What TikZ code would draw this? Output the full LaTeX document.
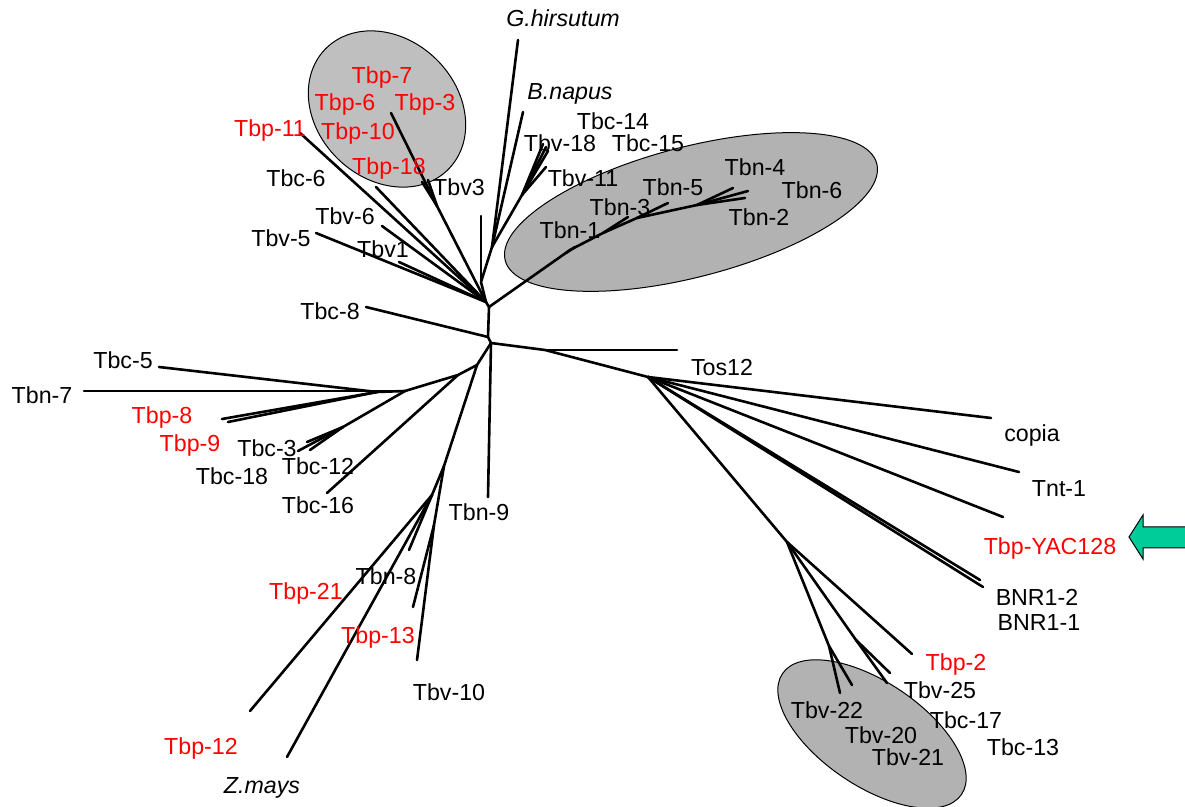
\documentclass[tikz,border=0pt]{standalone}
\usepackage{fontspec}
\setmainfont{Liberation Sans}
\usetikzlibrary{positioning}
\definecolor{markgreen}{RGB}{0,204,153}
\tikzset{
  branch/.style = {line width=1.3pt, line cap=round, line join=round},
  taxon/.style = {font=\fontsize{11.6}{13}\selectfont, inner sep=0pt, text height=8.3pt, text depth=0pt},
  redtaxon/.style = {taxon, text=red},
  species/.style = {taxon, font=\fontsize{11.6}{13}\selectfont\itshape},
  clade/.style = {draw, fill=black!30, line width=0.5pt}
}

\begin{document}
\begin{tikzpicture}[x=0.5pt, y=-0.5pt]

  \useasboundingbox (0,0) rectangle (1185,807);

  %% Clades
  \coordinate (tbpclade) at (387,109);
  \coordinate (tbnclade) at (691,212);
  \coordinate (tbvclade) at (872,734);
  \draw[clade, fill=black!25, rotate around={-44:(tbpclade)}] (tbpclade) ellipse [x radius=43pt, y radius=35pt];
  \draw[clade, rotate around={14.6:(tbnclade)}] (tbnclade) ellipse [x radius=96pt, y radius=32.5pt];
  \draw[clade, rotate around={-34:(tbvclade)}] (tbvclade) ellipse [x radius=54pt, y radius=26pt];

  %% Inner nodes
  \coordinate (h1) at (486,302);
  \coordinate (h2) at (489,307);
  \coordinate (c1) at (488,337);
  \coordinate (c2) at (491,343);
  \coordinate (v) at (481,282);
  \coordinate (w) at (492,247);
  \coordinate (t) at (522,195);
  \coordinate (p) at (437,206);
  \coordinate (k1) at (570,250);
  \coordinate (k2) at (603,233);
  \coordinate (k3) at (637,218);
  \coordinate (k4) at (697,205);
  \coordinate (d1) at (545,350);
  \coordinate (d2) at (648,377);
  \coordinate (d3) at (787,542);
  \coordinate (e1) at (856,640);
  \coordinate (e2) at (829,646);
  \coordinate (l1) at (477,365);
  \coordinate (l2) at (458,375);
  \coordinate (l3) at (405,391);
  \coordinate (l4) at (377,392);
  \coordinate (m) at (343,427);
  \coordinate (n) at (444,466);
  \coordinate (n1) at (432,495);
  \coordinate (n2) at (434,525);

  %% Tips
  \coordinate (Ghir) at (518,40);
  \coordinate (Bnap) at (523,112);
  \coordinate (Tbv18a) at (543,144);
  \coordinate (Tbv18b) at (546,147);
  \coordinate (Tbv18c) at (548,151);
  \coordinate (Tbv11) at (546,167);
  \coordinate (blank) at (481,216);
  \coordinate (Tbn1a) at (566,253);
  \coordinate (Tbn1b) at (575,247);
  \coordinate (Tbn3) at (628,217);
  \coordinate (Tbn5) at (668,203);
  \coordinate (Tbn4) at (733,188);
  \coordinate (Tbn6) at (748,191);
  \coordinate (Tbn2) at (745,198);
  \coordinate (Tbp3) at (391,113);
  \coordinate (Tbp18) at (422,182);
  \coordinate (Tbv3) at (428,180);
  \coordinate (Tbp11) at (300,133);
  \coordinate (Tbc6) at (376,187);
  \coordinate (Tbv6) at (382,226);
  \coordinate (Tbv5) at (316,233);
  \coordinate (Tbv1) at (399,262);
  \coordinate (Tbc8) at (366,307);
  \coordinate (Tos12) at (677,350);
  \coordinate (copia) at (991,418);
  \coordinate (Tnt1) at (1019,472);
  \coordinate (YAC128) at (1003,517);
  \coordinate (BNR2) at (980,580);
  \coordinate (BNR1) at (983,587);
  \coordinate (Tbp2) at (912,654);
  \coordinate (Tbv25a) at (890,673);
  \coordinate (Tbv25b) at (887,683);
  \coordinate (Tbv22a) at (840,693);
  \coordinate (Tbv22b) at (852,685);
  \coordinate (Tbc5) at (159,367);
  \coordinate (Tbn7) at (84,391);
  \coordinate (Tbp8) at (222,419);
  \coordinate (Tbp9) at (228,422);
  \coordinate (Tbc3a) at (298,451);
  \coordinate (Tbc3b) at (307,442);
  \coordinate (Tbc12) at (310,450);
  \coordinate (Tbc16) at (327,493);
  \coordinate (Tbn9) at (488,497);
  \coordinate (Tbp12) at (250,711);
  \coordinate (Zmays) at (287,757);
  \coordinate (Tbn8) at (409,550);
  \coordinate (Tbp13) at (413,607);
  \coordinate (Tbv10) at (417,660);

  %% Branches | trunk
  \draw[branch] (h1) -- (h2) -- (c1) -- (c2);
  \draw[branch] (c1) -- (Tbc8);

  % Upper right
  \draw[branch] (h1) -- (v) -- (w) -- (Ghir);
  \draw[branch] (v) -- (blank);
  \draw[branch] (w) -- (Bnap);
  \draw[branch] (w) -- (t) -- (Tbv18a);
  \draw[branch] (t) -- (Tbv18b);
  \draw[branch] (t) -- (Tbv18c);
  \draw[branch] (t) -- (Tbv11);

  % Tbn
  \draw[branch] (h2) -- (k1) -- (k2) -- (k3) -- (k4) -- (Tbn4);
  \draw[branch] (Tbn1a) -- (Tbn1b);
  \draw[branch] (k2) -- (Tbn3);
  \draw[branch] (k3) -- (Tbn5);
  \draw[branch] (k4) -- (Tbn6);
  \draw[branch] (k4) -- (Tbn2);

  % Upper left
  \draw[branch] (h1) -- (p) -- (Tbp3);
  \draw[branch] (p) -- (Tbp18);
  \draw[branch] (p) -- (Tbv3);
  \draw[branch] (h1) -- (Tbp11);
  \draw[branch] (h1) -- (Tbc6);
  \draw[branch] (h1) -- (Tbv6);
  \draw[branch] (h1) -- (Tbv5);
  \draw[branch] (h1) -- (Tbv1);

  % Right
  \draw[branch] (c2) -- (d1) -- (d2) -- (d3);
  \draw[branch] (d1) -- (Tos12);
  \draw[branch] (d2) -- (copia);
  \draw[branch] (d2) -- (Tnt1);
  \draw[branch] (d2) -- (YAC128);
  \draw[branch] (d2) -- (BNR2);
  \draw[branch] (d2) -- (BNR1);
  \draw[branch] (d3) -- (Tbp2);
  \draw[branch] (d3) -- (e1) -- (Tbv25a);
  \draw[branch] (e1) -- (Tbv25b);
  \draw[branch] (d3) -- (e2) -- (Tbv22a);
  \draw[branch] (e2) -- (Tbv22b);

  % Lower left
  \draw[branch] (c2) -- (l1) -- (l2) -- (l3) -- (l4) -- (Tbc5);
  \draw[branch] (l3) -- (Tbn7);
  \draw[branch] (l4) -- (Tbp8);
  \draw[branch] (l4) -- (Tbp9);
  \draw[branch] (l3) -- (m) -- (Tbc3a);
  \draw[branch] (m) -- (Tbc3b);
  \draw[branch] (m) -- (Tbc12);
  \draw[branch] (l2) -- (Tbc16);
  \draw[branch] (c2) -- (Tbn9);
  \draw[branch] (l1) -- (n) -- (n1) -- (Tbp12);
  \draw[branch] (n1) -- (Zmays);
  \draw[branch] (n1) -- (Tbn8);
  \draw[branch] (n) -- (n2) -- (Tbp13);
  \draw[branch] (n2) -- (Tbv10);

  %% Labels
  \node[species] (lGhir) at (563,18) {G.hirsutum};
  \node[species] (lBnap) at (570,91) {B.napus};
  \node[taxon] (lTbc14) at (613,121) {Tbc-14};
  \node[taxon] (lTbv18) at (560,143) {Tbv-18};
  \node[taxon] (lTbc15) at (648,143) {Tbc-15};
  \node[taxon] (lTbv11) at (583,178) {Tbv-11};
  \node[taxon] (lTbn1) at (570,230) {Tbn-1};
  \node[taxon] (lTbn3) at (620,207) {Tbn-3};
  \node[taxon] (lTbn5) at (673,187) {Tbn-5};
  \node[taxon] (lTbn4) at (755,167) {Tbn-4};
  \node[taxon] (lTbn6) at (812,190) {Tbn-6};
  \node[taxon] (lTbn2) at (759,217) {Tbn-2};
  \node[redtaxon] (lTbp7) at (382,75) {Tbp-7};
  \node[redtaxon] (lTbp6) at (345,102) {Tbp-6};
  \node[redtaxon] (lTbp3) at (425,102) {Tbp-3};
  \node[redtaxon] (lTbp10) at (358,131) {Tbp-10};
  \node[redtaxon] (lTbp18) at (389,166) {Tbp-18};
  \node[redtaxon] (lTbp11) at (270,128) {Tbp-11};
  \node[taxon] (lTbc6) at (296,178) {Tbc-6};
  \node[taxon] (lTbv3) at (459,187) {Tbv3};
  \node[taxon] (lTbv6) at (345,216) {Tbv-6};
  \node[taxon] (lTbv5) at (281,238) {Tbv-5};
  \node[taxon] (lTbv1) at (383,249) {Tbv1};
  \node[taxon] (lTbc8) at (330,311) {Tbc-8};
  \node[taxon] (lTos12) at (722,367) {Tos12};
  \node[taxon] (lcopia) at (1032,433) {copia};
  \node[taxon] (lTnt1) at (1059,488) {Tnt-1};
  \node[redtaxon] (lYAC128) at (1050,546) {Tbp-YAC128};
  \node[taxon] (lBNR2) at (1037,597) {BNR1-2};
  \node[taxon] (lBNR1) at (1039,622) {BNR1-1};
  \node[redtaxon] (lTbp2) at (956,662) {Tbp-2};
  \node[taxon] (lTbv25) at (940,690) {Tbv-25};
  \node[taxon] (lTbc17) at (966,720) {Tbc-17};
  \node[taxon] (lTbc13) at (1023,747) {Tbc-13};
  \node[taxon] (lTbv22) at (827,710) {Tbv-22};
  \node[taxon] (lTbv20) at (881,735) {Tbv-20};
  \node[taxon] (lTbv21) at (908,757) {Tbv-21};
  \node[taxon] (lTbc5) at (123,360) {Tbc-5};
  \node[taxon] (lTbn7) at (42,395) {Tbn-7};
  \node[redtaxon] (lTbp8) at (162,415) {Tbp-8};
  \node[redtaxon] (lTbp9) at (190,443) {Tbp-9};
  \node[taxon] (lTbc3) at (267,448) {Tbc-3};
  \node[taxon] (lTbc18) at (232,476) {Tbc-18};
  \node[taxon] (lTbc12) at (318,466) {Tbc-12};
  \node[taxon] (lTbc16) at (318,505) {Tbc-16};
  \node[taxon] (lTbn9) at (479,512) {Tbn-9};
  \node[redtaxon] (lTbp21) at (306,591) {Tbp-21};
  \node[taxon] (lTbn8) at (386,576) {Tbn-8};
  \node[redtaxon] (lTbp13) at (378,635) {Tbp-13};
  \node[taxon] (lTbv10) at (449,692) {Tbv-10};
  \node[redtaxon] (lTbp12) at (201,746) {Tbp-12};
  \node[species] (lZmays) at (262,785) {Z.mays};

  %% Marker arrow
  \draw[fill=markgreen, line width=0.5pt] (1129,537) -- (1143,515) -- (1143,527) -- (1192,527)
    -- (1192,548) -- (1143,548) -- (1143,559) -- cycle;

\end{tikzpicture}
\end{document}
